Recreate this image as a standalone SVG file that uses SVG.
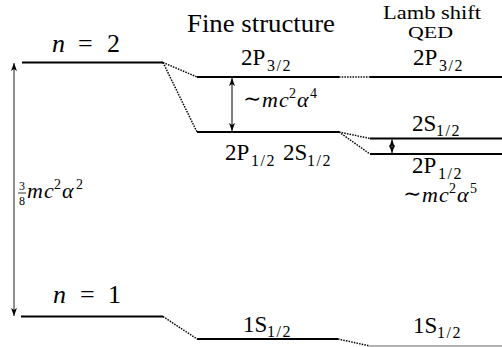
<svg xmlns="http://www.w3.org/2000/svg" width="502" height="347" viewBox="0 0 502 347">
<style>
text{font-family:"Liberation Serif","DejaVu Serif","Times New Roman",serif;fill:#000}
.i{font-style:italic}
.lv{stroke:#000;stroke-width:2;fill:none}
.dt{stroke:#000;stroke-width:1.5;stroke-dasharray:1.5 1.2;fill:none}
.ar{stroke:#000;stroke-width:1;fill:none}
</style>
<defs>
<marker id="ah" markerWidth="9" markerHeight="7" refX="8" refY="3.5" orient="auto-start-reverse" markerUnits="userSpaceOnUse">
<path d="M0,0.5 L8,3.5 L0,6.5 L2,3.5 z" fill="#000"/>
</marker>
</defs>
<rect width="502" height="347" fill="#fff"/>
<g id="headers" font-family="Liberation Serif, serif">
<text x="187" y="32" font-size="25" textLength="148" lengthAdjust="spacingAndGlyphs">Fine structure</text>
<text x="383" y="18.5" font-size="18" textLength="98" lengthAdjust="spacingAndGlyphs">Lamb shift</text>
<text x="408" y="38" font-size="17" textLength="45" lengthAdjust="spacingAndGlyphs">QED</text>
</g>
<g id="n2" font-family="Liberation Serif, serif">
<line class="lv" x1="22" y1="62.5" x2="163" y2="62.5"/>
<text class="i" x="52" y="52" font-size="26">n</text>
<text x="78" y="52" font-size="26">=</text>
<text x="107" y="52" font-size="26">2</text>
</g>
<g id="n1" font-family="Liberation Serif, serif">
<line class="lv" x1="21" y1="316.5" x2="163" y2="316.5"/>
<text class="i" x="53" y="303" font-size="26">n</text>
<text x="80" y="303" font-size="26">=</text>
<text x="108" y="303" font-size="26">1</text>
</g>
<g id="fs-2p32" font-family="Liberation Serif, serif">
<line class="lv" x1="197" y1="77" x2="339" y2="77" stroke-width="2.5"/>
<text x="241" y="65" font-size="23">2P</text>
<text x="267" y="71" font-size="16" letter-spacing="1.5">3/2</text>
</g>
<g id="fs-2p12" font-family="Liberation Serif, serif">
<line class="lv" x1="197" y1="132" x2="339" y2="132" stroke-width="2.5"/>
<text x="225" y="160" font-size="23">2P</text>
<text x="251" y="166" font-size="16" letter-spacing="1.5">1/2</text>
<text x="283" y="160" font-size="23">2S</text>
<text x="307" y="166" font-size="16" letter-spacing="1.5">1/2</text>
</g>
<g id="fs-1s" font-family="Liberation Serif, serif">
<line class="lv" x1="197" y1="339" x2="338" y2="339" stroke-width="2.5"/>
<text x="243" y="332" font-size="23">1S</text>
<text x="267" y="337" font-size="16" letter-spacing="1.5">1/2</text>
</g>
<g id="ls-2p32" font-family="Liberation Serif, serif">
<line class="lv" x1="370" y1="77" x2="502" y2="77"/>
<text x="413" y="65" font-size="23">2P</text>
<text x="439" y="71" font-size="16" letter-spacing="1.5">3/2</text>
</g>
<g id="ls-2s12" font-family="Liberation Serif, serif">
<line class="lv" x1="370" y1="138.5" x2="502" y2="138.5"/>
<text x="412" y="131" font-size="23">2S</text>
<text x="436" y="136" font-size="16" letter-spacing="1.5">1/2</text>
</g>
<g id="ls-2p12" font-family="Liberation Serif, serif">
<line class="lv" x1="370" y1="154" x2="502" y2="154"/>
<text x="412" y="173" font-size="23">2P</text>
<text x="438" y="179" font-size="16" letter-spacing="1.5">1/2</text>
</g>
<g id="ls-1s" font-family="Liberation Serif, serif">
<line x1="370" y1="346" x2="502" y2="346" stroke="#999" stroke-width="1.5"/>
<text x="413" y="333" font-size="23">1S</text>
<text x="437" y="338" font-size="16" letter-spacing="1.5">1/2</text>
</g>
<g id="labels" font-family="Liberation Serif, serif">
<text x="243" y="106" font-size="22">∼</text>
<text class="i" x="262" y="107" font-size="22">m</text>
<text class="i" x="279" y="107" font-size="22">c</text>
<text x="289" y="98" font-size="14">2</text>
<text class="i" x="297" y="107" font-size="22">α</text>
<text x="310" y="98" font-size="14">4</text>

<text x="403" y="201" font-size="22">∼</text>
<text class="i" x="422" y="202" font-size="22">m</text>
<text class="i" x="439" y="202" font-size="22">c</text>
<text x="449" y="193" font-size="14">2</text>
<text class="i" x="457" y="202" font-size="22">α</text>
<text x="470" y="193" font-size="14">5</text>

<text x="19" y="190" font-size="12">3</text>
<line x1="18" y1="193" x2="26" y2="193" stroke="#000" stroke-width="0.8"/>
<text x="19" y="205" font-size="12">8</text>
<text class="i" x="27" y="198" font-size="22">m</text>
<text class="i" x="44" y="198" font-size="22">c</text>
<text x="54" y="189" font-size="14">2</text>
<text class="i" x="62" y="198" font-size="22">α</text>
<text x="76" y="189" font-size="14">2</text>
</g>
<g id="connectors">
<line class="dt" x1="163" y1="62.5" x2="197" y2="77"/>
<line class="dt" x1="163" y1="62.5" x2="197" y2="132"/>
<line class="dt" x1="339" y1="77" x2="370" y2="77"/>
<line class="dt" x1="339" y1="132" x2="370" y2="138.5"/>
<line class="dt" x1="339" y1="132" x2="370" y2="154"/>
<line class="dt" x1="163" y1="316.5" x2="197" y2="339"/>
<line class="dt" x1="338" y1="339" x2="370" y2="346"/>
<line class="ar" x1="232" y1="78" x2="232" y2="131" marker-start="url(#ah)" marker-end="url(#ah)"/>
<line class="ar" x1="392" y1="139.5" x2="392" y2="153" marker-start="url(#ah)" marker-end="url(#ah)"/>
<line x1="14" y1="63" x2="14" y2="316" stroke="#444" stroke-width="1.2" marker-start="url(#ah)" marker-end="url(#ah)"/>
</g>
</svg>
